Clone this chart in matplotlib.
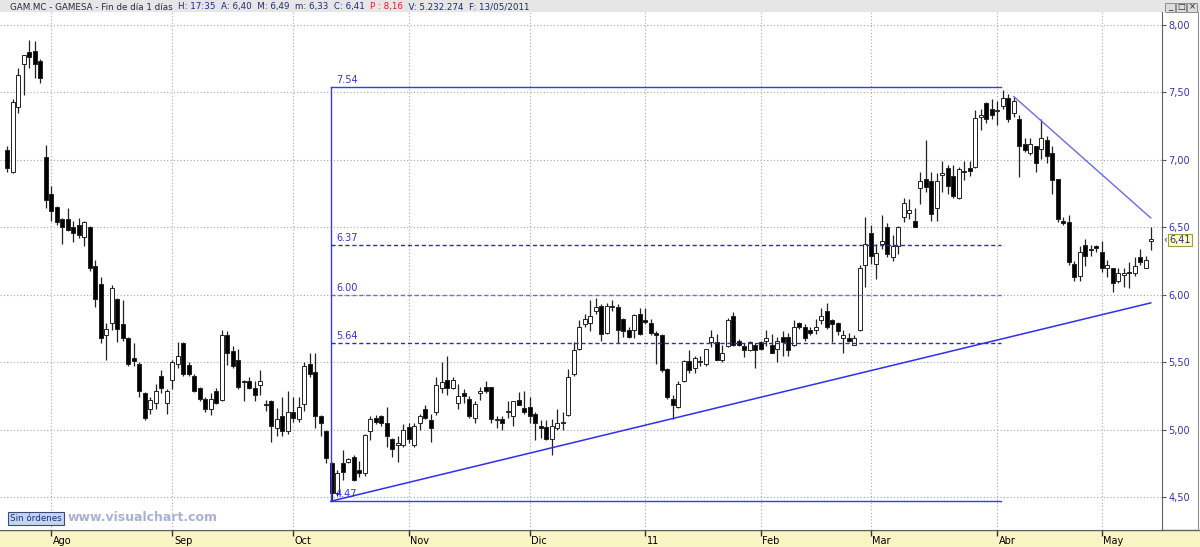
import matplotlib
matplotlib.use('Agg')
import matplotlib.pyplot as plt
from matplotlib.patches import Rectangle
from matplotlib.lines import Line2D
from matplotlib.transforms import blended_transform_factory

# daily candles GAM.MC, late Jul 2010 .. 13 May 2011 (index = trading day)
opens = [
    7.07, 6.91, 7.39, 7.71, 7.80, 7.81, 7.73, 7.02, 6.75, 6.65,
    6.56, 6.56, 6.50, 6.52, 6.43, 6.50, 6.21, 6.08, 5.70, 5.79,
    5.97, 5.78, 5.68, 5.53, 5.49, 5.27, 5.15, 5.20, 5.40, 5.20,
    5.37, 5.49, 5.64, 5.48, 5.40, 5.31, 5.23, 5.15, 5.29, 5.22,
    5.70, 5.58, 5.52, 5.36, 5.36, 5.31, 5.33, 5.19, 5.21, 5.01,
    5.10, 4.99, 5.13, 5.08, 5.19, 5.49, 5.43, 5.10, 4.99, 4.75,
    4.53, 4.75, 4.76, 4.80, 4.70, 4.68, 4.99, 5.09, 5.10, 5.05,
    4.93, 4.89, 4.89, 5.02, 4.89, 5.05, 5.15, 5.07, 5.13, 5.31,
    5.37, 5.31, 5.20, 5.27, 5.23, 5.09, 5.27, 5.32, 5.32, 5.07,
    5.08, 5.13, 5.10, 5.22, 5.16, 5.17, 5.12, 5.03, 5.02, 4.93,
    5.01, 5.05, 5.11, 5.41, 5.60, 5.78, 5.79, 5.88, 5.92, 5.72,
    5.91, 5.91, 5.82, 5.74, 5.74, 5.86, 5.81, 5.79, 5.72, 5.70,
    5.45, 5.23, 5.17, 5.36, 5.51, 5.46, 5.50, 5.49, 5.65, 5.65,
    5.52, 5.62, 5.84, 5.66, 5.62, 5.59, 5.63, 5.65, 5.66, 5.63,
    5.60, 5.69, 5.69, 5.63, 5.79, 5.76, 5.74, 5.74, 5.81, 5.88,
    5.81, 5.79, 5.68, 5.68, 5.63, 5.74, 6.22, 6.46, 6.23, 6.38,
    6.50, 6.28, 6.36, 6.58, 6.61, 6.55, 6.79, 6.86, 6.84, 6.64,
    6.89, 6.94, 6.88, 6.72, 6.92, 6.94, 6.95, 7.32, 7.42, 7.38,
    7.36, 7.40, 7.46, 7.35, 7.30, 7.12, 7.05, 7.10, 7.08, 7.15,
    7.05, 6.86, 6.55, 6.54, 6.23, 6.14, 6.37, 6.34, 6.36, 6.32,
    6.20, 6.20, 6.10, 6.15, 6.17, 6.16, 6.28, 6.20, 6.40,
]
highs = [
    7.10, 7.45, 7.68, 7.78, 7.89, 7.88, 7.75, 7.11, 6.81, 6.66,
    6.57, 6.64, 6.55, 6.57, 6.55, 6.51, 6.26, 6.13, 5.79, 6.07,
    5.98, 5.96, 5.69, 5.64, 5.50, 5.28, 5.24, 5.34, 5.44, 5.30,
    5.52, 5.65, 5.65, 5.50, 5.41, 5.32, 5.24, 5.27, 5.31, 5.74,
    5.73, 5.62, 5.60, 5.37, 5.39, 5.36, 5.44, 5.22, 5.22, 5.16,
    5.24, 5.29, 5.24, 5.24, 5.50, 5.57, 5.57, 5.11, 5.00, 4.76,
    4.70, 4.85, 4.79, 4.81, 4.77, 4.97, 5.10, 5.11, 5.11, 5.17,
    4.94, 4.95, 5.04, 5.05, 5.05, 5.12, 5.18, 5.12, 5.39, 5.50,
    5.55, 5.39, 5.34, 5.30, 5.25, 5.21, 5.32, 5.36, 5.32, 5.10,
    5.10, 5.21, 5.21, 5.28, 5.29, 5.24, 5.13, 5.07, 5.07, 5.08,
    5.15, 5.13, 5.45, 5.65, 5.81, 5.86, 5.96, 5.98, 5.93, 5.94,
    5.96, 5.93, 5.83, 5.76, 5.86, 5.90, 5.90, 5.82, 5.73, 5.71,
    5.46, 5.26, 5.36, 5.52, 5.59, 5.55, 5.55, 5.60, 5.74, 5.71,
    5.63, 5.83, 5.87, 5.67, 5.64, 5.66, 5.64, 5.66, 5.74, 5.71,
    5.69, 5.73, 5.72, 5.81, 5.80, 5.78, 5.76, 5.82, 5.90, 5.94,
    5.82, 5.80, 5.74, 5.72, 5.70, 6.22, 6.58, 6.52, 6.38, 6.59,
    6.53, 6.44, 6.51, 6.72, 6.71, 6.64, 6.91, 7.15, 6.91, 6.90,
    6.99, 6.96, 6.96, 6.95, 6.99, 6.99, 7.37, 7.38, 7.43, 7.45,
    7.44, 7.52, 7.49, 7.47, 7.33, 7.16, 7.16, 7.10, 7.30, 7.18,
    7.10, 6.86, 6.58, 6.59, 6.25, 6.36, 6.41, 6.37, 6.37, 6.40,
    6.26, 6.20, 6.20, 6.20, 6.24, 6.28, 6.34, 6.29, 6.50,
]
lows = [
    6.91, 6.90, 7.35, 7.48, 7.68, 7.61, 7.57, 6.64, 6.55, 6.52,
    6.38, 6.47, 6.39, 6.42, 6.36, 6.18, 5.91, 5.64, 5.52, 5.74,
    5.65, 5.66, 5.47, 5.47, 5.24, 5.07, 5.12, 5.15, 5.27, 5.12,
    5.30, 5.46, 5.40, 5.40, 5.28, 5.21, 5.13, 5.11, 5.19, 5.21,
    5.48, 5.46, 5.30, 5.21, 5.30, 5.21, 5.26, 5.14, 4.91, 4.95,
    4.95, 4.97, 5.06, 5.06, 5.14, 5.39, 5.01, 4.95, 4.75, 4.47,
    4.51, 4.63, 4.75, 4.62, 4.65, 4.66, 4.92, 5.04, 5.03, 4.87,
    4.80, 4.76, 4.87, 4.90, 4.87, 5.00, 5.08, 4.91, 5.11, 5.27,
    5.26, 5.30, 5.15, 5.20, 5.09, 5.05, 5.22, 5.27, 5.05, 5.01,
    5.00, 5.09, 5.03, 5.18, 5.12, 5.05, 4.92, 4.94, 4.92, 4.81,
    5.00, 5.00, 5.10, 5.40, 5.59, 5.76, 5.73, 5.86, 5.66, 5.71,
    5.88, 5.64, 5.69, 5.68, 5.68, 5.70, 5.78, 5.70, 5.49, 5.43,
    5.23, 5.08, 5.16, 5.35, 5.42, 5.42, 5.47, 5.47, 5.61, 5.52,
    5.50, 5.61, 5.62, 5.62, 5.54, 5.58, 5.46, 5.59, 5.62, 5.57,
    5.50, 5.55, 5.55, 5.62, 5.75, 5.66, 5.70, 5.71, 5.78, 5.75,
    5.65, 5.70, 5.57, 5.65, 5.63, 5.73, 6.06, 6.23, 6.12, 6.34,
    6.28, 6.25, 6.30, 6.54, 6.56, 6.50, 6.67, 6.76, 6.55, 6.55,
    6.76, 6.75, 6.72, 6.71, 6.85, 6.88, 6.94, 7.22, 7.27, 7.30,
    7.26, 7.38, 7.28, 7.32, 6.87, 7.06, 7.04, 6.91, 7.01, 6.98,
    6.75, 6.54, 6.52, 6.22, 6.10, 6.10, 6.21, 6.29, 6.32, 6.17,
    6.13, 6.02, 6.09, 6.06, 6.05, 6.14, 6.22, 6.20, 6.33,
]
closes = [
    6.94, 7.43, 7.63, 7.78, 7.76, 7.71, 7.61, 6.70, 6.62, 6.54,
    6.50, 6.48, 6.46, 6.44, 6.54, 6.20, 5.97, 5.68, 5.75, 6.05,
    5.75, 5.68, 5.49, 5.51, 5.29, 5.09, 5.22, 5.29, 5.31, 5.29,
    5.50, 5.55, 5.41, 5.41, 5.29, 5.23, 5.15, 5.23, 5.20, 5.70,
    5.57, 5.47, 5.32, 5.35, 5.31, 5.26, 5.36, 5.18, 5.03, 5.08,
    4.99, 5.13, 5.09, 5.17, 5.47, 5.41, 5.10, 5.05, 4.79, 4.53,
    4.68, 4.69, 4.78, 4.63, 4.68, 4.96, 5.08, 5.06, 5.05, 4.95,
    4.86, 4.90, 5.00, 4.93, 5.03, 5.10, 5.09, 5.01, 5.33, 5.35,
    5.31, 5.37, 5.25, 5.25, 5.10, 5.19, 5.29, 5.29, 5.08, 5.08,
    5.05, 5.14, 5.21, 5.18, 5.13, 5.10, 5.05, 5.01, 4.93, 5.03,
    5.05, 5.06, 5.39, 5.59, 5.76, 5.82, 5.84, 5.91, 5.71, 5.92,
    5.92, 5.74, 5.73, 5.69, 5.85, 5.71, 5.80, 5.72, 5.70, 5.44,
    5.24, 5.18, 5.34, 5.51, 5.44, 5.53, 5.51, 5.60, 5.69, 5.52,
    5.57, 5.81, 5.63, 5.63, 5.59, 5.65, 5.59, 5.60, 5.68, 5.57,
    5.66, 5.65, 5.59, 5.76, 5.76, 5.68, 5.72, 5.76, 5.84, 5.76,
    5.78, 5.73, 5.70, 5.66, 5.68, 6.20, 6.38, 6.29, 6.31, 6.40,
    6.30, 6.36, 6.50, 6.68, 6.63, 6.50, 6.84, 6.80, 6.60, 6.84,
    6.90, 6.81, 6.73, 6.93, 6.91, 6.92, 7.31, 7.33, 7.30, 7.33,
    7.37, 7.46, 7.30, 7.44, 7.10, 7.07, 7.12, 6.98, 7.16, 7.03,
    6.85, 6.56, 6.53, 6.24, 6.13, 6.32, 6.29, 6.33, 6.35, 6.20,
    6.22, 6.09, 6.16, 6.16, 6.16, 6.21, 6.24, 6.26, 6.41,
]

month_idx = [8, 30, 52, 73, 95, 116, 137, 157, 180, 199]
month_labels = ['Ago', 'Sep', 'Oct', 'Nov', 'Dic', '11', 'Feb', 'Mar', 'Abr', 'May']
price_ticks = [4.5, 5.0, 5.5, 6.0, 6.5, 7.0, 7.5, 8.0]

fib_levels = [7.54, 6.37, 6.00, 5.64, 4.47]
fib_span = [58.85, 180.7]
trend_up_x, trend_up_y = [58.85, 207.9], [4.47, 5.94]
trend_down_x, trend_down_y = [183, 207.9], [7.47, 6.57]
last_close = 6.41

W, H = 1200, 547


def fx(px):
    return px / W


def fy(py):
    return 1 - py / H


fig = plt.figure(figsize=(12, 5.47), dpi=100)

# header band and bottom date strip
fig.patches.append(Rectangle((0, fy(12)), 1, 12 / H, transform=fig.transFigure,
                             fc='#e6e6e6', ec='none', zorder=-1))
fig.patches.append(Rectangle((0, 0), 1, fy(530), transform=fig.transFigure,
                             fc='#f9f4c4', ec='none', zorder=-1))
fig.lines.append(Line2D([0, 1], [fy(530), fy(530)], transform=fig.transFigure,
                        color='#606060', lw=1, zorder=-0.5))
fig.lines.append(Line2D([fx(1198), fx(1198)], [fy(12), fy(530)], transform=fig.transFigure,
                        color='#909090', lw=0.8))

ax = fig.add_axes([0, fy(530), fx(1162), 518 / H])
ax.set_zorder(1)
ax.set_xlim(-1.327, 209.95)
ax.set_ylim(4.2565, 8.0964)

for y in price_ticks:
    ax.axhline(y, color='#a8a8a8', lw=0.8, ls=(0, (1, 2)), zorder=0)
for x in month_idx:
    ax.axvline(x, color='#a8a8a8', lw=0.8, ls=(0, (1, 2)), zorder=0)

# candles
xs = list(range(len(closes)))
ax.vlines(xs, lows, highs, colors='#222222', lw=0.9, zorder=2)
bottoms = [min(o, c) for o, c in zip(opens, closes)]
heights = [max(abs(c - o), 0.006) for o, c in zip(opens, closes)]
faces = ['white' if c >= o else 'black' for o, c in zip(opens, closes)]
ax.bar(xs, heights, bottom=bottoms, width=0.72, color=faces,
       edgecolor='#222222', linewidth=0.7, zorder=3)

# fibonacci retracement
fib_col = '#3a3ae6'
ax.plot([fib_span[0], fib_span[0]], [fib_levels[-1], fib_levels[0]], color=fib_col, lw=1, zorder=4)
for i, lvl in enumerate(fib_levels):
    if i in (0, len(fib_levels) - 1):
        ax.plot(fib_span, [lvl, lvl], color=fib_col, lw=1, zorder=4)
    else:
        col = '#6a6af0' if lvl == 6.00 else '#2a2ac8'
        ax.plot(fib_span, [lvl, lvl], color=col, lw=1, ls=(0, (3, 2)), zorder=4)
    ax.annotate(f'{lvl:.2f}', xy=(fib_span[0], lvl), xytext=(5, 2),
                textcoords='offset pixels', fontsize=7, color='#3535d0',
                va='bottom', ha='left', zorder=5)

# trend lines
ax.plot(trend_up_x, trend_up_y, color='#2f2fee', lw=1.1, zorder=4)
ax.plot(trend_down_x, trend_down_y, color='#6b6bf2', lw=1.0, zorder=4)

# axes styling
for s in ['left', 'top']:
    ax.spines[s].set_visible(False)
ax.spines['right'].set_color('#606060')
ax.spines['bottom'].set_color('#606060')
ax.yaxis.tick_right()
ax.set_yticks(price_ticks)
ax.set_yticklabels([f'{v:.2f}'.replace('.', ',') for v in price_ticks])
ax.tick_params(axis='y', direction='out', length=3, color='#555555',
               labelcolor='#3535b5', labelsize=7, pad=1.5)
ax.set_xticks(month_idx)
ax.tick_params(axis='x', direction='out', length=4.5, width=1, color='#333333',
               labelbottom=False)
trans = blended_transform_factory(ax.transData, fig.transFigure)
for x, lab in zip(month_idx, month_labels):
    ax.text(x + 0.3, fy(541.5), lab, transform=trans, ha='left', va='center',
            fontsize=7, color='black', clip_on=False)

# header text
t1 = fig.text(fx(10), fy(7), 'GAM.MC - GAMESA - Fin de día 1 días  ', fontsize=6.3,
              color='#2a2a40', va='center', ha='left')
t2 = ax.annotate('H: 17:35  A: 6,40  M: 6,49  m: 6,33  C: 6,41  ', xy=(1, 0), xycoords=t1,
                 va='bottom', ha='left', fontsize=6.3, color='#1e2a7a')
t3 = ax.annotate('P : 8,16', xy=(1, 0), xycoords=t2,
                 va='bottom', ha='left', fontsize=6.3, color='#e02020')
ax.annotate('  V: 5.232.274  F: 13/05/2011', xy=(1, 0), xycoords=t3,
            va='bottom', ha='left', fontsize=6.3, color='#1e2a7a')

# window buttons
for k, sym in enumerate(['_', '□', '×']):
    x0 = 1165 + k * 11
    fig.patches.append(Rectangle((fx(x0), fy(12)), fx(10), 9 / H, transform=fig.transFigure,
                                 fc='#dcdcdc', ec='#808080', lw=0.6))
    fig.text(fx(x0 + 5), fy(7), sym, fontsize=6, ha='center', va='center', color='#202020')

# last price tag
fig.text(fx(1163), fy(240), '‹', fontsize=7, ha='left', va='center', color='#333333')
fig.text(fx(1169), fy(240), f'{last_close:.2f}'.replace('.', ','), fontsize=7,
         ha='left', va='center', color='#2a2a90',
         bbox=dict(boxstyle='square,pad=0.15', fc='#ffffc0', ec='#9a9a50', lw=0.8))

# watermark and order box
fig.text(fx(68), fy(517.5), 'www.visualchart.com', fontsize=9, fontweight='bold',
         color='#a9b1d6', ha='left', va='center')
fig.text(fx(10), fy(518.5), 'Sin órdenes', fontsize=6.3, color='#1c2c7c', ha='left', va='center',
         bbox=dict(boxstyle='square,pad=0.25', fc='#c6d5ef', ec='#3a4a7a', lw=0.8))

fig.savefig('out.png', dpi=100)
